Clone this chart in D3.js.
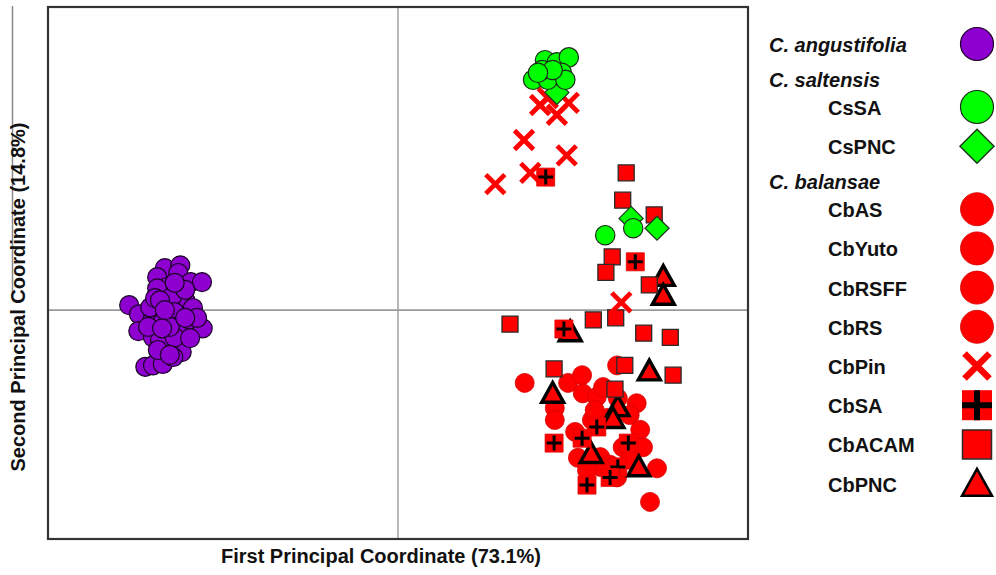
<!DOCTYPE html>
<html><head><meta charset="utf-8">
<script src="https://cdn.jsdelivr.net/npm/d3@7"></script>
<style>html,body{margin:0;padding:0;background:#fff;}svg{display:block;font-family:"Liberation Sans",Arial,sans-serif;}</style>
</head><body><svg id="c" width="996" height="575"></svg>
<script>
// ---- data (PCoA coordinates) ----
const angustifolia = [[-0.384,0.007],[-0.370,-0.006],[-0.371,-0.030],[-0.361,-0.081],[-0.350,-0.079],[-0.336,-0.077],[-0.333,0.060],[-0.311,0.064],[-0.314,0.053],[-0.344,0.047],[-0.296,0.040],[-0.280,0.040],[-0.330,0.033],[-0.344,0.031],[-0.304,0.014],[-0.323,0.019],[-0.293,0.003],[-0.350,-0.011],[-0.336,-0.017],[-0.319,-0.003],[-0.311,-0.021],[-0.297,-0.014],[-0.279,-0.026],[-0.287,-0.011],[-0.350,-0.039],[-0.330,-0.053],[-0.309,-0.060],[-0.340,-0.043],[-0.319,-0.039],[-0.354,0.004],[-0.347,0.017],[-0.357,-0.024],[-0.326,-0.024],[-0.343,-0.057],[-0.321,-0.067],[-0.340,0.014],[-0.333,0.000],[-0.304,-0.011],[-0.304,0.029],[-0.337,-0.026],[-0.297,-0.040],[-0.319,0.039],[-0.326,-0.064]];
const csSA = [[0.210,0.357],[0.227,0.354],[0.244,0.361],[0.193,0.329],[0.214,0.329],[0.206,0.343],[0.234,0.339],[0.239,0.329],[0.221,0.343],[0.200,0.339],[0.336,0.117],[0.296,0.107]];
const csPNC = [[0.227,0.311],[0.333,0.131],[0.370,0.117]];
const cbCircles = [[0.181,-0.104],[0.243,-0.104],[0.263,-0.093],[0.313,-0.079],[0.224,-0.140],[0.224,-0.157],[0.264,-0.119],[0.284,-0.124],[0.293,-0.110],[0.314,-0.126],[0.341,-0.133],[0.277,-0.157],[0.299,-0.154],[0.331,-0.150],[0.346,-0.171],[0.257,-0.211],[0.289,-0.210],[0.321,-0.196],[0.350,-0.196],[0.303,-0.221],[0.313,-0.239],[0.370,-0.226],[0.360,-0.274],[0.289,-0.224],[0.253,-0.174],[0.270,-0.229],[0.331,-0.214],[0.281,-0.143]];
const cbPin = [[0.203,0.293],[0.227,0.279],[0.244,0.296],[0.214,0.303],[0.180,0.243],[0.241,0.221],[0.189,0.196],[0.139,0.180],[0.319,0.011]];
const cbSA = [[0.211,0.190],[0.339,0.069],[0.237,-0.027],[0.284,-0.167],[0.223,-0.190],[0.263,-0.183],[0.329,-0.190],[0.314,-0.224],[0.303,-0.239],[0.270,-0.250]];
const cbACAM = [[0.326,0.196],[0.321,0.157],[0.366,0.136],[0.306,0.076],[0.297,0.054],[0.359,0.036],[0.160,-0.020],[0.279,-0.014],[0.311,-0.011],[0.351,-0.033],[0.389,-0.039],[0.223,-0.084],[0.324,-0.079],[0.393,-0.093],[0.310,-0.113]];
const cbPNC = [[0.379,0.046],[0.379,0.019],[0.246,-0.033],[0.359,-0.089],[0.221,-0.121],[0.314,-0.140],[0.307,-0.157],[0.276,-0.207],[0.344,-0.226]];

const legendLabels = ["C. angustifolia","C. saltensis","CsSA","CsPNC","C. balansae","CbAS","CbYuto","CbRSFF","CbRS","CbPin","CbSA","CbACAM","CbPNC"];
const legendSymbols = ["purple","header","green","diamond","header","red","red","red","red","x","plus","square","triangle"];
const xTitle = "First Principal Coordinate (73.1%)";
const yTitle = "Second Principal Coordinate (14.8%)";

// ---- drawing ----
const svg = d3.select("#c");
const L=48, R=748, T=7, B=539;
const x = d3.scaleLinear().domain([-0.5,0.5]).range([L,R]);
const y = d3.scaleLinear().domain([-0.327,0.433]).range([B,T]);

const PURPLE="#8E00CF", GREEN="#00FF00", RED="#FF0000";

// stray artifact line at far left
svg.append("line").attr("x1",12.5).attr("x2",12.5).attr("y1",6).attr("y2",296)
  .attr("stroke","#8a8a8a").attr("stroke-width",1.5);

// zero lines
svg.append("line").attr("x1",x(0)).attr("x2",x(0)).attr("y1",T).attr("y2",B).attr("stroke","#9a9a9a").attr("stroke-width",1.4);
svg.append("line").attr("x1",L).attr("x2",R).attr("y1",y(0)).attr("y2",y(0)).attr("stroke","#9a9a9a").attr("stroke-width",1.6);

// symbol path helpers
function sq(s){const h=s/2;return `M${-h},${-h}H${h}V${h}H${-h}Z`;}
function dia(h){return `M0,${-h}L${h},0L0,${h}L${-h},0Z`;}
function tri(w){const h=w*0.9;return `M0,${-h*0.62}L${w/2},${h*0.38}L${-w/2},${h*0.38}Z`;}
function ex(h){return `M${-h},${-h}L${h},${h}M${h},${-h}L${-h},${h}`;}
function plus(h){return `M${-h},0H${h}M0,${-h}V${h}`;}

const g = svg.append("g");
const tr = d=>`translate(${x(d[0])},${y(d[1])})`;

// red circles
g.selectAll(".rc").data(cbCircles).join("circle").attr("cx",d=>x(d[0])).attr("cy",d=>y(d[1])).attr("r",9.5)
  .attr("fill",RED).attr("stroke","#d40000").attr("stroke-width",0.8);
// triangles
g.selectAll(".tr").data(cbPNC).join("path").attr("transform",tr).attr("d",tri(22))
  .attr("fill",RED).attr("stroke","#000").attr("stroke-width",3.4).attr("stroke-linejoin","miter");
// squares
g.selectAll(".sq").data(cbACAM).join("path").attr("transform",tr).attr("d",sq(16))
  .attr("fill",RED).attr("stroke","#2a2a2a").attr("stroke-width",1.3);
// CbSA
const sa = g.selectAll(".sa").data(cbSA).join("g").attr("transform",tr);
sa.append("path").attr("d",sq(18)).attr("fill",RED).attr("stroke","#e00000").attr("stroke-width",0.8);
sa.append("path").attr("d",plus(7.5)).attr("stroke","#000").attr("stroke-width",3);
// X
g.selectAll(".xx").data(cbPin).join("path").attr("transform",tr).attr("d",ex(9.5))
  .attr("fill","none").attr("stroke",RED).attr("stroke-width",4.8);
// green diamonds
g.selectAll(".gd").data(csPNC).join("path").attr("transform",tr).attr("d",dia(12))
  .attr("fill",GREEN).attr("stroke","#1a3a1a").attr("stroke-width",1.3);
// green circles
g.selectAll(".gc").data(csSA).join("circle").attr("cx",d=>x(d[0])).attr("cy",d=>y(d[1])).attr("r",9.7)
  .attr("fill",GREEN).attr("stroke","#1a2a1a").attr("stroke-width",1.2);
// purple
g.selectAll(".pc").data(angustifolia).join("circle").attr("cx",d=>x(d[0])).attr("cy",d=>y(d[1])).attr("r",9.5)
  .attr("fill",PURPLE).attr("stroke","#1a0024").attr("stroke-width",1.2);

// frame
svg.append("rect").attr("x",L).attr("y",T).attr("width",R-L).attr("height",B-T)
  .attr("fill","none").attr("stroke","#333").attr("stroke-width",2.2);

// axis titles
svg.append("text").attr("x",381).attr("y",563).attr("text-anchor","middle")
  .attr("font-size",20).attr("font-weight","bold").attr("fill","#111").text(xTitle);
svg.append("text").attr("transform","translate(25,297) rotate(-90)").attr("text-anchor","middle")
  .attr("font-size",20).attr("font-weight","bold").attr("fill","#111").text(yTitle);

// legend
let yy = 52, prev=null;
const lg = svg.append("g");
legendLabels.forEach((lab,i)=>{
  const sym = legendSymbols[i];
  if(i>0){
    if(sym==="header") yy += (prev==="header"?28:35);
    else yy += (prev==="header"?28:39.2);
  }
  prev = sym;
  const isHead = sym==="header" || i===0;
  lg.append("text").attr("x",isHead?769:828).attr("y",yy)
    .attr("font-size",20).attr("font-weight","bold").attr("font-style",isHead?"italic":"normal")
    .attr("fill","#111").text(lab);
  const cy = yy-8, cx=977;
  const m = lg.append("g").attr("transform",`translate(${cx},${cy})`);
  if(sym==="purple") m.append("circle").attr("r",16.5).attr("fill",PURPLE).attr("stroke","#1a0024").attr("stroke-width",1.2);
  if(sym==="green") m.append("circle").attr("r",16.5).attr("fill",GREEN).attr("stroke","#1a2a1a").attr("stroke-width",1.2);
  if(sym==="red") m.append("circle").attr("r",16.5).attr("fill",RED).attr("stroke","#d40000").attr("stroke-width",0.8);
  if(sym==="diamond") m.append("path").attr("d",dia(17)).attr("fill",GREEN).attr("stroke","#1a3a1a").attr("stroke-width",1.5);
  if(sym==="x") m.append("path").attr("d",ex(12.5)).attr("stroke",RED).attr("stroke-width",6.5).attr("fill","none");
  if(sym==="plus"){ m.append("path").attr("d",sq(30)).attr("fill",RED);
    m.append("path").attr("d",plus(15)).attr("stroke","#000").attr("stroke-width",6); }
  if(sym==="square") m.append("path").attr("d",sq(29)).attr("fill",RED).attr("stroke","#2a2a2a").attr("stroke-width",1.5);
  if(sym==="triangle") m.append("path").attr("d",tri(30)).attr("transform","translate(0,2)").attr("fill",RED).attr("stroke","#000").attr("stroke-width",2.5);
});
</script></body></html>
